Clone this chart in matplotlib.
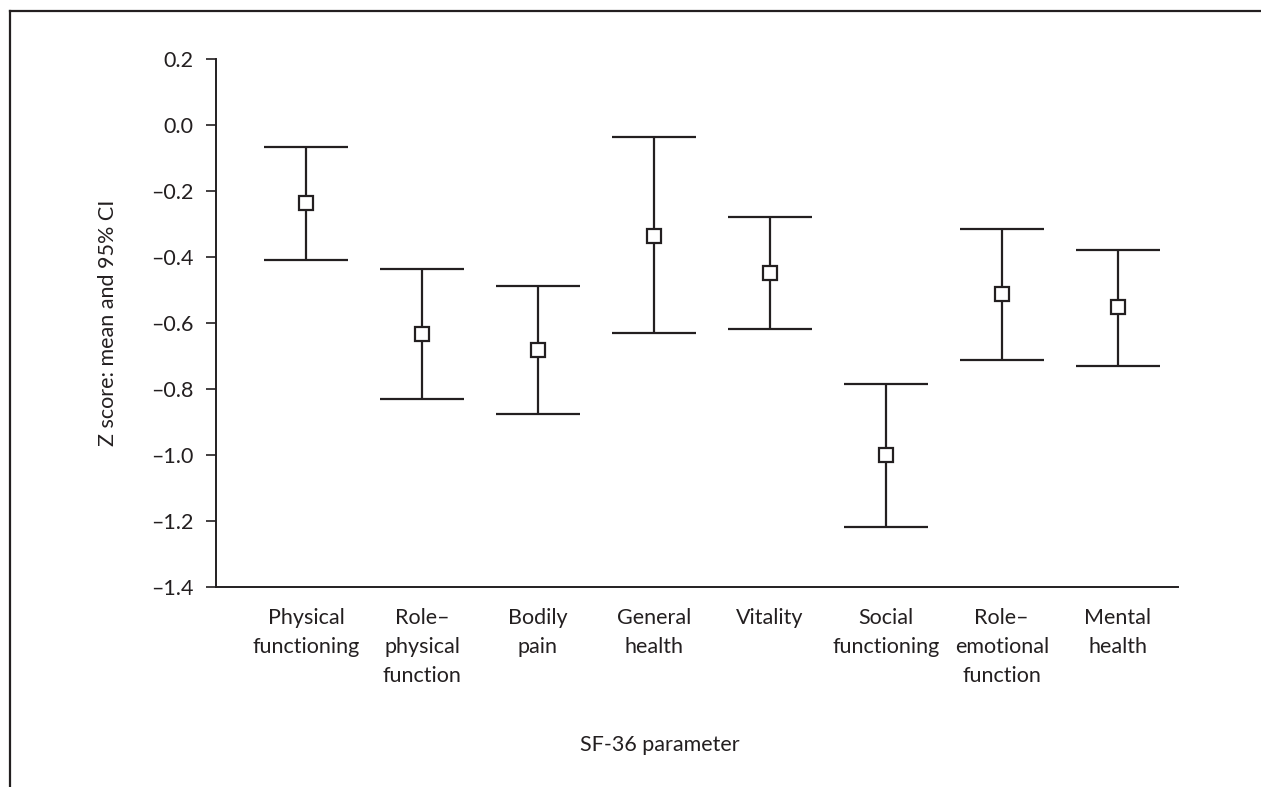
import matplotlib
matplotlib.use("Agg")
import matplotlib.pyplot as plt
from matplotlib.lines import Line2D

plt.rcParams['font.family'] = ['Lato', 'DejaVu Sans']

categories = ["Physical\nfunctioning", "Role–\nphysical\nfunction", "Bodily\npain",
              "General\nhealth", "Vitality", "Social\nfunctioning",
              "Role–\nemotional\nfunction", "Mental\nhealth"]
means = [-0.237, -0.632, -0.683, -0.336, -0.448, -1.001, -0.513, -0.553]
upper = [-0.068, -0.437, -0.488, -0.036, -0.278, -0.784, -0.314, -0.380]
lower = [-0.408, -0.829, -0.877, -0.629, -0.618, -1.218, -0.713, -0.730]
yticks = [0.2, 0.0, -0.2, -0.4, -0.6, -0.8, -1.0, -1.2, -1.4]

ink = "#231f20"

fig = plt.figure(figsize=(12.61, 7.87), dpi=100)
ax = fig.add_axes([216/1261, 1-587/787, (1178-216)/1261, (587-59)/787])

x = list(range(len(categories)))
yerr = [[m - l for m, l in zip(means, lower)], [u - m for u, m in zip(upper, means)]]
ax.errorbar(x, means, yerr=yerr, fmt='s', color=ink, ecolor=ink, elinewidth=1.6,
            capsize=30.2, capthick=1.8, markersize=10.5, markerfacecolor='white',
            markeredgecolor=ink, markeredgewidth=1.6, zorder=3)

ax.set_xlim(-0.776, 7.52)
ax.set_ylim(-1.4, 0.2)
ax.set_yticks(yticks)
ax.set_yticklabels([f"{v:.1f}".replace("-", "–") if v != 0 else "0.0" for v in yticks])
ax.set_xticks(x)
ax.set_xticklabels(categories, linespacing=1.58, va='top')
ax.tick_params(axis='x', length=0, pad=15, labelsize=15.5, colors=ink)
ax.tick_params(axis='y', direction='out', length=7, width=1.2, pad=9, labelsize=15.5, colors=ink)
for s in ['top', 'right']:
    ax.spines[s].set_visible(False)
for s in ['left', 'bottom']:
    ax.spines[s].set_color(ink)
    ax.spines[s].set_linewidth(1.4)

ax.set_ylabel("Z score: mean and 95% CI", fontsize=15.5, color=ink, labelpad=24)
fig.text(660/1261, 1-745/787, "SF-36 parameter", ha='center', va='center', fontsize=15.5, color=ink)

# frame
fig.add_artist(Line2D([10/1261, 1.02], [1-11/787, 1-11/787], transform=fig.transFigure, color=ink, lw=1.6))
fig.add_artist(Line2D([10/1261, 10/1261], [1-11/787, -0.02], transform=fig.transFigure, color=ink, lw=1.6))

fig.savefig("out.png", dpi=100)
